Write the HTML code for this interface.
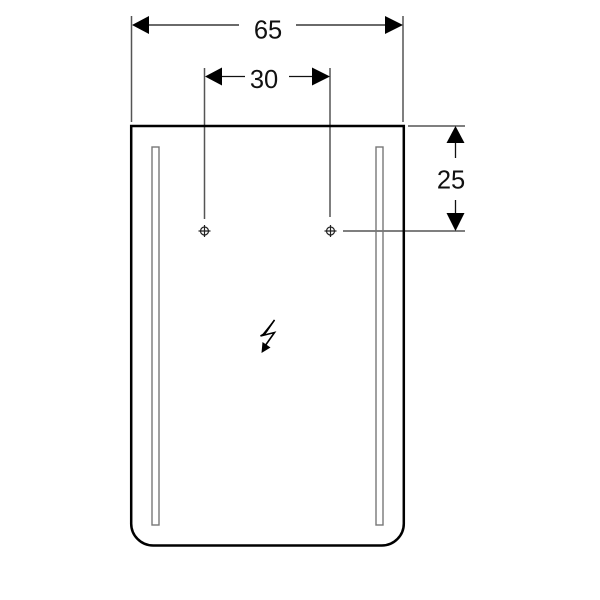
<!DOCTYPE html>
<html><head><meta charset="utf-8"><style>html,body{margin:0;padding:0;background:#fff}svg{display:block}text{font-family:"Liberation Sans",sans-serif;font-size:25.500px;fill:#111}</style></head><body>
<svg width="600" height="600" viewBox="0 0 600 600" xmlns="http://www.w3.org/2000/svg">
<rect width="600" height="600" fill="#fff"/>
<g stroke="#555" stroke-width="1.500" fill="none">
<path d="M131.500 16V122M403 16V122"/>
<path d="M204.500 68V219M330 68V217"/>
<path d="M408 126H465"/>
<path d="M343 231H465"/>
</g>
<g stroke="#111" stroke-width="1.300" fill="none">
<path d="M149 25H239M296 25H385"/>
<path d="M222 76.500H245M289 76.500H312"/>
<path d="M455.500 143V158M455.500 200V213"/>
</g>
<g fill="#000">
<path d="M132 25L149 16V34Z"/>
<path d="M403 25L385 16V34Z"/>
<path d="M205 76.500L222 67.500V85.500Z"/>
<path d="M330 76.500L312 67.500V85.500Z"/>
<path d="M455.500 126L464.500 143H446.500Z"/>
<path d="M455.500 231L446.500 213H464.500Z"/>
</g>
<path d="M131.200 126H403.800V523A22 22 0 0 1 381.800 545.500H153.200A22 22 0 0 1 131.200 523Z" fill="none" stroke="#000" stroke-width="2.500"/>
<g fill="none" stroke="#777" stroke-width="1.400">
<rect x="152" y="147" width="7" height="378"/>
<rect x="376" y="147" width="7" height="378"/>
</g>
<g fill="none" stroke="#222" stroke-width="1.200">
<circle cx="204.500" cy="231" r="4"/><path d="M204.500 225V237M198.500 231H210.500"/>
<circle cx="330.500" cy="231" r="4"/><path d="M330.500 225V237M324.500 231H336.500"/>
</g>
<path d="M274.500 320L265 333.500L260.500 336L274.500 332.500L265 346" fill="none" stroke="#000" stroke-width="1.600"/>
<path d="M274.500 320L266.500 332L262 335.500Z" fill="#000" stroke="#000" stroke-width="1"/>
<path d="M261.500 353L262.500 342L270.500 347.500Z" fill="#000"/>
<text x="268" y="38.500" text-anchor="middle">65</text>
<text x="264" y="88" text-anchor="middle">30</text>
<text x="451" y="188.500" text-anchor="middle">25</text>
</svg>
</body></html>
